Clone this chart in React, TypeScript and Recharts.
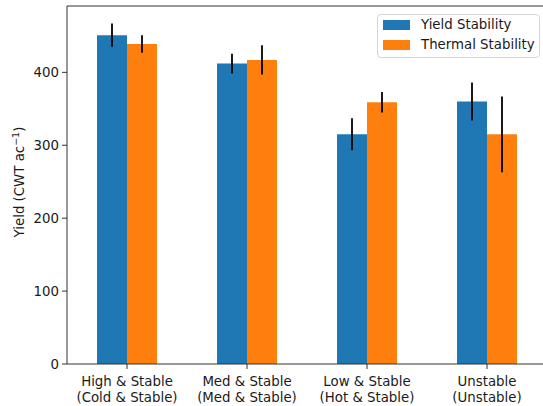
import React from "react";
import { BarChart, Bar, XAxis, YAxis, ErrorBar, Legend, ReferenceLine } from "recharts";

const categories = ["High & Stable", "Med & Stable", "Low & Stable", "Unstable"];
const subLabels = ["(Cold & Stable)", "(Med & Stable)", "(Hot & Stable)", "(Unstable)"];
const seriesNames = ["Yield Stability", "Thermal Stability"];
const yieldValues = [451, 412, 315, 360];
const yieldErrors = [16, 13.5, 22, 26];
const thermalValues = [439, 417, 359, 315];
const thermalErrors = [12, 20, 14, 52];
const yTicks = [0, 100, 200, 300, 400];
const Y_MAX = 491;

const data = categories.map((c, i) => ({
  name: c,
  yieldStab: yieldValues[i],
  yieldErr: yieldErrors[i],
  thermal: thermalValues[i],
  thermalErr: thermalErrors[i],
}));

const FONT = "'DejaVu Sans', sans-serif";
const TEXT = "#1a1a1a";
const AXIS = "#333";
const FS = 13.33;

function XTick(props: any) {
  const { x, y, payload } = props;
  const idx = categories.indexOf(payload.value);
  return (
    <g>
      <text x={x} y={y} textAnchor="middle" fontFamily={FONT} fontSize={FS} fill={TEXT}>
        <tspan x={x} dy={14.5}>{payload.value}</tspan>
        <tspan x={x} dy={16}>{subLabels[idx]}</tspan>
      </text>
    </g>
  );
}

function YLabel(props: any) {
  const vb = props.viewBox || { x: 0, y: 6, width: 67, height: 358 };
  const cx = 24;
  const cy = vb.y + vb.height / 2 - 3;
  return (
    <text
      transform={`translate(${cx},${cy}) rotate(-90)`}
      textAnchor="middle"
      fontFamily={FONT}
      fontSize={FS}
      fill={TEXT}
    >
      Yield (CWT ac
      <tspan dy={-5} fontSize={9.5}>−1</tspan>
      <tspan dy={5}>)</tspan>
    </text>
  );
}

function LegendBox(props: any) {
  const raw = props.payload || [];
  const items = [...raw].sort(
    (a: any, b: any) => seriesNames.indexOf(a.value) - seriesNames.indexOf(b.value)
  );
  return (
    <div
      style={{
        width: 163,
        height: 44,
        boxSizing: "border-box",
        border: "1px solid #d5d5d5",
        borderRadius: 4,
        background: "rgba(255,255,255,0.8)",
        position: "relative",
        fontFamily: FONT,
        fontSize: FS,
        color: TEXT,
      }}
    >
      {items.map((it: any, i: number) => {
        const cy = 10 + i * 19.5;
        return (
          <React.Fragment key={i}>
            <div
              style={{
                position: "absolute",
                left: 5,
                top: cy - 5,
                width: 27,
                height: 10,
                background: it.color,
              }}
            />
            <div
              style={{
                position: "absolute",
                left: 43,
                top: cy - 8,
                height: 16,
                lineHeight: "16px",
                whiteSpace: "nowrap",
              }}
            >
              {it.value}
            </div>
          </React.Fragment>
        );
      })}
    </div>
  );
}

export default function App() {
  return (
    <div
      style={{
        position: "absolute",
        left: 0,
        top: 0,
        width: 543,
        height: 406,
        overflow: "hidden",
        background: "#fff",
      }}
    >
      <BarChart
        width={560}
        height={406}
        data={data}
        margin={{ top: 6, right: 13, left: 0, bottom: 0 }}
        barCategoryGap="25%"
        barGap={0}
      >
        <XAxis
          dataKey="name"
          height={42}
          interval={0}
          tick={<XTick />}
          tickSize={5}
          tickMargin={2}
          axisLine={{ stroke: AXIS, strokeWidth: 1 }}
          tickLine={{ stroke: AXIS, strokeWidth: 1 }}
        />
        <YAxis
          width={67}
          domain={[0, Y_MAX]}
          ticks={yTicks}
          allowDataOverflow
          tickSize={5}
          tickMargin={3}
          tick={{ fontFamily: FONT, fontSize: FS, fill: TEXT }}
          axisLine={{ stroke: AXIS, strokeWidth: 1 }}
          tickLine={{ stroke: AXIS, strokeWidth: 1 }}
          label={<YLabel />}
        />
        <ReferenceLine y={Y_MAX} stroke={AXIS} strokeWidth={1} />
        <Legend
          layout="vertical"
          align="center"
          verticalAlign="middle"
          content={<LegendBox />}
          wrapperStyle={{ left: 377, top: 14, width: 163, height: 44 }}
        />
        <Bar dataKey="yieldStab" name={seriesNames[0]} fill="#1f77b4" isAnimationActive={false}>
          <ErrorBar dataKey="yieldErr" width={0} stroke="#000" strokeWidth={1.8} direction="y" />
        </Bar>
        <Bar dataKey="thermal" name={seriesNames[1]} fill="#ff7f0e" isAnimationActive={false}>
          <ErrorBar dataKey="thermalErr" width={0} stroke="#000" strokeWidth={1.8} direction="y" />
        </Bar>
      </BarChart>
    </div>
  );
}
